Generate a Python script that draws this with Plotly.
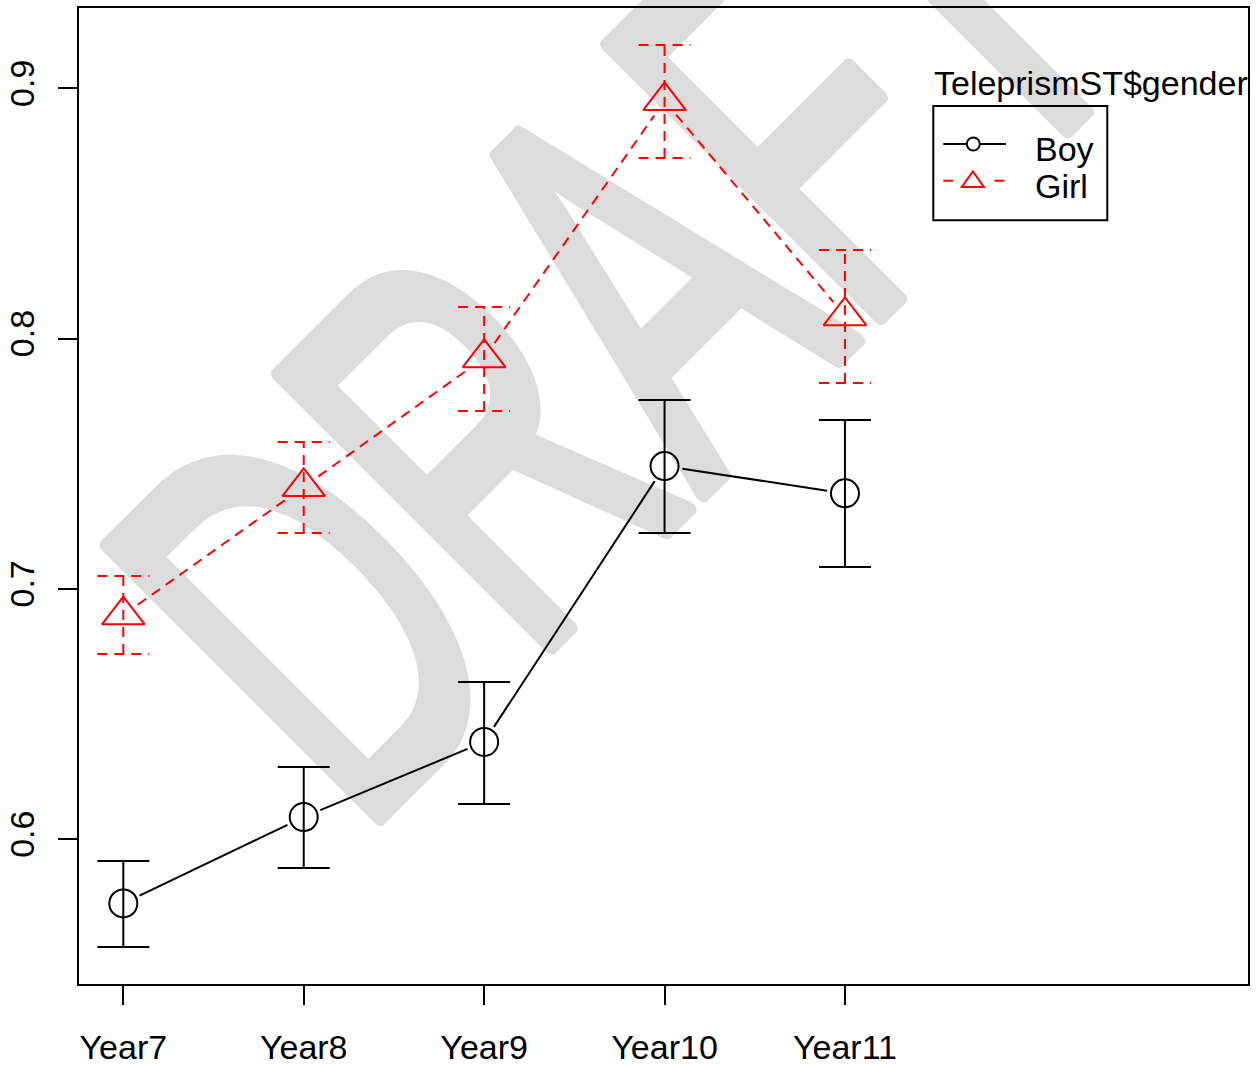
import numpy as np
import plotly.graph_objects as go

# ---------------- data ----------------
years = ["Year7", "Year8", "Year9", "Year10", "Year11"]
boy_mean = [0.5744, 0.6089, 0.6389, 0.7491, 0.7382]
boy_upper = [0.5913, 0.6289, 0.6628, 0.7755, 0.7675]
boy_lower = [0.5570, 0.5885, 0.6141, 0.7224, 0.7088]
girl_mean = [0.6896, 0.7408, 0.7923, 0.8950, 0.8091]
girl_upper = [0.7052, 0.7587, 0.8127, 0.9173, 0.8354]
girl_lower = [0.6740, 0.7224, 0.7711, 0.8722, 0.7823]
y_ticks = [0.6, 0.7, 0.8, 0.9]
y_ticklabels = ["0.6", "0.7", "0.8", "0.9"]
groups = ["Boy", "Girl"]
legend_title = "TeleprismST$gender"
watermark_text = "DRAFT"

# ---------------- layout constants ----------------
W, H = 1259, 1065
ML, MR, MT, MB = 79, 11, 8, 81
PW, PH = W - ML - MR, H - MT - MB
XR = [0.7544, 7.234]
YR = [0.5422, 0.9321]
FONT = "Liberation Sans, Arial, sans-serif"
FS = 34
xpos = list(range(1, len(years) + 1))

SX = PW / (XR[1] - XR[0])
SY = PH / (YR[1] - YR[0])


def gapped(xs, ys, gap=18):
    X, Y = [], []
    for i in range(len(xs) - 1):
        x0, y0, x1, y1 = xs[i], ys[i], xs[i + 1], ys[i + 1]
        L = np.hypot((x1 - x0) * SX, (y1 - y0) * SY)
        f = gap / L
        X += [x0 + (x1 - x0) * f, x1 - (x1 - x0) * f, None]
        Y += [y0 + (y1 - y0) * f, y1 - (y1 - y0) * f, None]
    return X, Y


def errbars(xs, lo, hi, cap_px=26):
    c = cap_px / SX
    X, Y = [], []
    for x, l, h in zip(xs, lo, hi):
        X += [x, x, None, x - c, x + c, None, x - c, x + c, None]
        Y += [l, h, None, h, h, None, l, l, None]
    return X, Y


def px(xp):
    return (xp - ML) / PW


def py(yp):
    return (MT + PH - yp) / PH


fig = go.Figure()

bx, by = errbars(xpos, boy_lower, boy_upper)
fig.add_trace(go.Scatter(x=bx, y=by, mode="lines", line=dict(color="black", width=2),
                         hoverinfo="skip", showlegend=False))
gx, gy = errbars(xpos, girl_lower, girl_upper)
fig.add_trace(go.Scatter(x=gx, y=gy, mode="lines", line=dict(color="red", width=2, dash="10px,7px"),
                         hoverinfo="skip", showlegend=False))

lx, ly = gapped(xpos, boy_mean)
fig.add_trace(go.Scatter(x=lx, y=ly, mode="lines", line=dict(color="black", width=2),
                         hoverinfo="skip", showlegend=False))
lx, ly = gapped(xpos, girl_mean)
fig.add_trace(go.Scatter(x=lx, y=ly, mode="lines", line=dict(color="red", width=2, dash="10px,7px"),
                         hoverinfo="skip", showlegend=False))

fig.add_trace(go.Scatter(x=xpos, y=boy_mean, mode="markers", name=groups[0],
                         marker=dict(symbol="circle-open", size=28, color="black", line=dict(width=2)),
                         showlegend=False))
fig.add_trace(go.Scatter(x=xpos, y=girl_mean, mode="markers", name=groups[1],
                         marker=dict(symbol="triangle-up-open", size=37, color="red", line=dict(width=2)),
                         showlegend=False))

# watermark (below traces); condensed horizontally after render
wm_cx, wm_cy = 579, 269
wm_scale = 0.60
wm_html = ('<span style="stroke:#DCDCDC; stroke-width:16px; stroke-linejoin:round">'
           + watermark_text + '</span>')
fig.add_shape(type="rect", xref="paper", yref="paper",
              x0=px(wm_cx) - 0.005, x1=px(wm_cx) + 0.005, y0=py(wm_cy) - 0.005, y1=py(wm_cy) + 0.005,
              layer="below", line=dict(width=0), fillcolor="rgba(0,0,0,0)",
              label=dict(text=wm_html, textangle=-45, textposition="middle center",
                         font=dict(size=559, color="#DCDCDC", family=FONT)))

# manual legend (R style)
fig.add_shape(type="rect", xref="paper", yref="paper",
              x0=px(933.3), x1=px(1107.3), y0=py(220.3), y1=py(106),
              line=dict(color="black", width=2), fillcolor="rgba(0,0,0,0)")
fig.add_shape(type="line", xref="paper", yref="paper", x0=px(943.3), x1=px(966.8), y0=py(144), y1=py(144),
              line=dict(color="black", width=2))
fig.add_shape(type="line", xref="paper", yref="paper", x0=px(979.8), x1=px(1006), y0=py(144), y1=py(144),
              line=dict(color="black", width=2))
fig.add_shape(type="circle", xref="paper", yref="paper", xsizemode="pixel", ysizemode="pixel",
              xanchor=px(973.3), yanchor=py(144), x0=-6.5, x1=6.5, y0=-6.5, y1=6.5,
              line=dict(color="black", width=2))
fig.add_shape(type="line", xref="paper", yref="paper", x0=px(943.3), x1=px(953.3), y0=py(180.7), y1=py(180.7),
              line=dict(color="red", width=2))
fig.add_shape(type="line", xref="paper", yref="paper", x0=px(994.5), x1=px(1004.5), y0=py(180.7), y1=py(180.7),
              line=dict(color="red", width=2))
fig.add_shape(type="path", xref="paper", yref="paper", xsizemode="pixel", ysizemode="pixel",
              xanchor=px(972.9), yanchor=py(181.5),
              path="M -11,-5.5 L 11,-5.5 L 0,10 Z", line=dict(color="red", width=2))

fig.add_annotation(x=px(932), y=py(83.5), xref="paper", yref="paper", text=legend_title,
                   showarrow=False, xanchor="left", yanchor="middle",
                   font=dict(size=FS, color="black", family=FONT))
for name, yc in zip(groups, [149, 186]):
    fig.add_annotation(x=px(1032.5), y=py(yc), xref="paper", yref="paper", text=name,
                       showarrow=False, xanchor="left", yanchor="middle",
                       font=dict(size=FS, color="black", family=FONT))

axis_common = dict(showline=True, linecolor="black", linewidth=2, mirror=True,
                   ticks="outside", ticklen=19, tickwidth=2, tickcolor="black",
                   showgrid=False, zeroline=False, automargin=False,
                   tickfont=dict(size=FS, color="black", family=FONT))
fig.update_xaxes(range=XR, tickvals=xpos, ticktext=years, ticklabelstandoff=13, **axis_common)
fig.update_yaxes(range=YR, tickvals=y_ticks, ticktext=y_ticklabels, tickangle=-90,
                 ticklabelstandoff=10, **axis_common)

fig.update_layout(width=W, height=H, margin=dict(l=ML, r=MR, t=MT, b=MB),
                  paper_bgcolor="white", plot_bgcolor="white", showlegend=False)

post_js = """
document.body.style.margin = '0';
var gd = document.getElementById('{plot_id}');
gd.querySelectorAll('text').forEach(function (t) {
  if (t.textContent.trim() === '%s') {
    var b = t.getBBox();
    var cx = b.x + b.width / 2, cy = b.y + b.height / 2;
    var tr = t.getAttribute('transform') || '';
    t.setAttribute('transform', tr + ' translate(' + cx + ',' + cy + ') scale(%s,1) translate(' + (-cx) + ',' + (-cy) + ')');
  }
});
""" % (watermark_text, wm_scale)

fig.write_html("out.html", post_script=post_js, config={"displayModeBar": False})
